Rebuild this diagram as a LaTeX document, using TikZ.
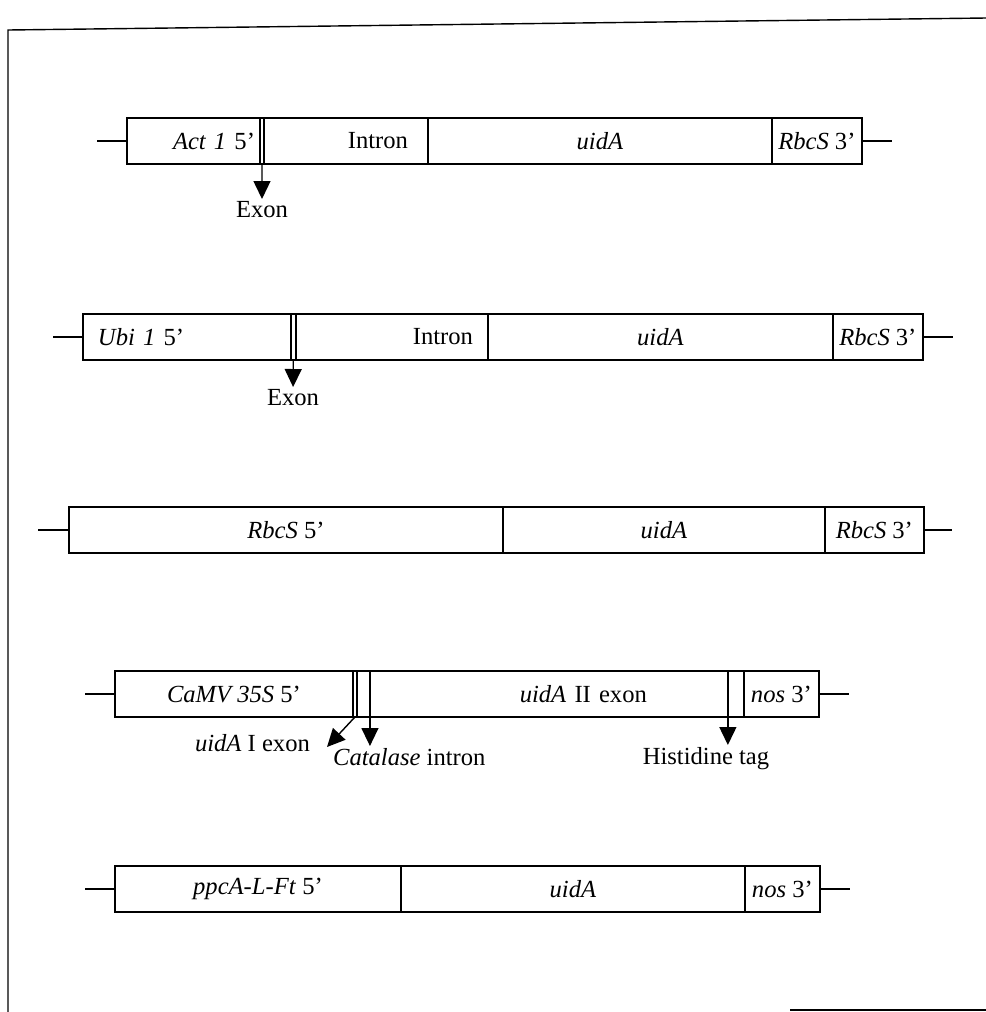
\documentclass[tikz,border=0pt]{standalone}
\usepackage{fontspec}
\setmainfont{Liberation Serif}
\usetikzlibrary{arrows.meta, positioning}

\begin{document}
\begin{tikzpicture}[
    x=0.02cm, y=-0.02cm,
    node distance=0pt,
    seg/.style={rectangle, draw=black, thick, minimum height=0.92cm, inner ysep=0pt, inner xsep=0.1cm, outer sep=0pt, text centered, font=\fontsize{14}{16}\selectfont},
    gap/.style={seg, inner xsep=0pt},
    lbl/.style={font=\fontsize{14}{16}\selectfont, inner sep=1pt},
    arrow/.style={-{Triangle[width=0.34cm, length=0.36cm]}, thick}
]
\useasboundingbox (0,0) rectangle (986,1012);

% frame
\draw[thick] (8,1012) -- (8,30) -- (986,18);
\draw[thick] (790,1010) -- (986,1010);

% Act 1 construct
\node (act) [seg, anchor=west, text width=2.46cm, align=right] at (127,141) {\textit{Act 1} 5’};
\node (actx) [gap, minimum width=0.08cm, right=of act] {};
\node (actin) [seg, right=of actx, inner xsep=0.4cm, text width=2.48cm, align=right] {Intron};
\node (actu) [seg, right=of actin, minimum width=6.88cm] {\textit{uidA}};
\node (act3) [seg, right=of actu, minimum width=1.8cm] {\textit{RbcS} 3’};
\coordinate (actl) at (97,141);
\coordinate (actr) at (892,141);
\node (actex) [lbl, anchor=north] at (262,199) {Exon};

\draw [thick] (actl) -- (act);
\draw [thick] (act3) -- (actr);
\draw [arrow] (actx) -- (actex);

% Ubi 1 construct
\node (ubi) [seg, anchor=west, inner xsep=0.3cm, text width=3.56cm, align=left] at (83,337) {\textit{Ubi 1} 5’};
\node (ubix) [gap, minimum width=0.1cm, right=of ubi] {};
\node (ubiin) [seg, right=of ubix, inner xsep=0.3cm, text width=3.24cm, align=right] {Intron};
\node (ubiu) [seg, right=of ubiin, minimum width=6.9cm] {\textit{uidA}};
\node (ubi3) [seg, right=of ubiu, minimum width=1.8cm] {\textit{RbcS} 3’};
\coordinate (ubil) at (53,337);
\coordinate (ubir) at (953,337);
\node (ubiex) [lbl, anchor=north] at (293,387) {Exon};

\draw [thick] (ubil) -- (ubi);
\draw [thick] (ubi3) -- (ubir);
\draw [arrow] (ubix) -- (ubiex);

% RbcS construct
\node (rbc) [seg, anchor=west, minimum width=8.68cm] at (69,530) {\textit{RbcS} 5’};
\node (rbcu) [seg, right=of rbc, minimum width=6.44cm] {\textit{uidA}};
\node (rbc3) [seg, right=of rbcu, minimum width=1.98cm] {\textit{RbcS} 3’};
\coordinate (rbcl) at (38,530);
\coordinate (rbcr) at (952,530);

\draw [thick] (rbcl) -- (rbc);
\draw [thick] (rbc3) -- (rbcr);

% CaMV 35S construct
\node (cam) [seg, anchor=west, minimum width=4.76cm] at (115,694) {\textit{CaMV 35S} 5’};
\node (camx) [gap, minimum width=0.08cm, right=of cam] {};
\node (camc) [gap, minimum width=0.26cm, right=of camx] {};
\node (camu) [seg, right=of camc, inner xsep=1.62cm, text width=3.92cm, align=right] {\textit{uidA} II exon};
\node (camh) [gap, minimum width=0.32cm, right=of camu] {};
\node (cam3) [seg, right=of camh, minimum width=1.5cm] {\textit{nos} 3’};
\coordinate (caml) at (85,694);
\coordinate (camr) at (849,694);
\coordinate (camxt) at (327,747);
\node (camxl) [lbl, anchor=east] at (312,743) {\textit{uidA} I exon};
\node (camcl) [lbl, anchor=north west] at (331,746) {\textit{Catalase} intron};
\node (camhl) [lbl, anchor=north] at (706,745) {Histidine tag};

\draw [thick] (caml) -- (cam);
\draw [thick] (cam3) -- (camr);
\draw [arrow] (camx.south) -- (camxt);
\draw [arrow] (camc.south east) -- (camc.south east |- camcl.north);
\draw [arrow] (camh.south west) -- (camh.south west |- camhl.north);

% ppcA-L-Ft construct
\node (ppc) [seg, anchor=west, minimum width=5.72cm] at (115,889) {\textit{ppcA-L-Ft} 5’};
\node (ppcu) [seg, right=of ppc, minimum width=6.88cm] {\textit{uidA}};
\node (ppc3) [seg, right=of ppcu, minimum width=1.5cm] {\textit{nos} 3’};
\coordinate (ppcl) at (85,889);
\coordinate (ppcr) at (850,889);

\draw [thick] (ppcl) -- (ppc);
\draw [thick] (ppc3) -- (ppcr);

\end{tikzpicture}
\end{document}
